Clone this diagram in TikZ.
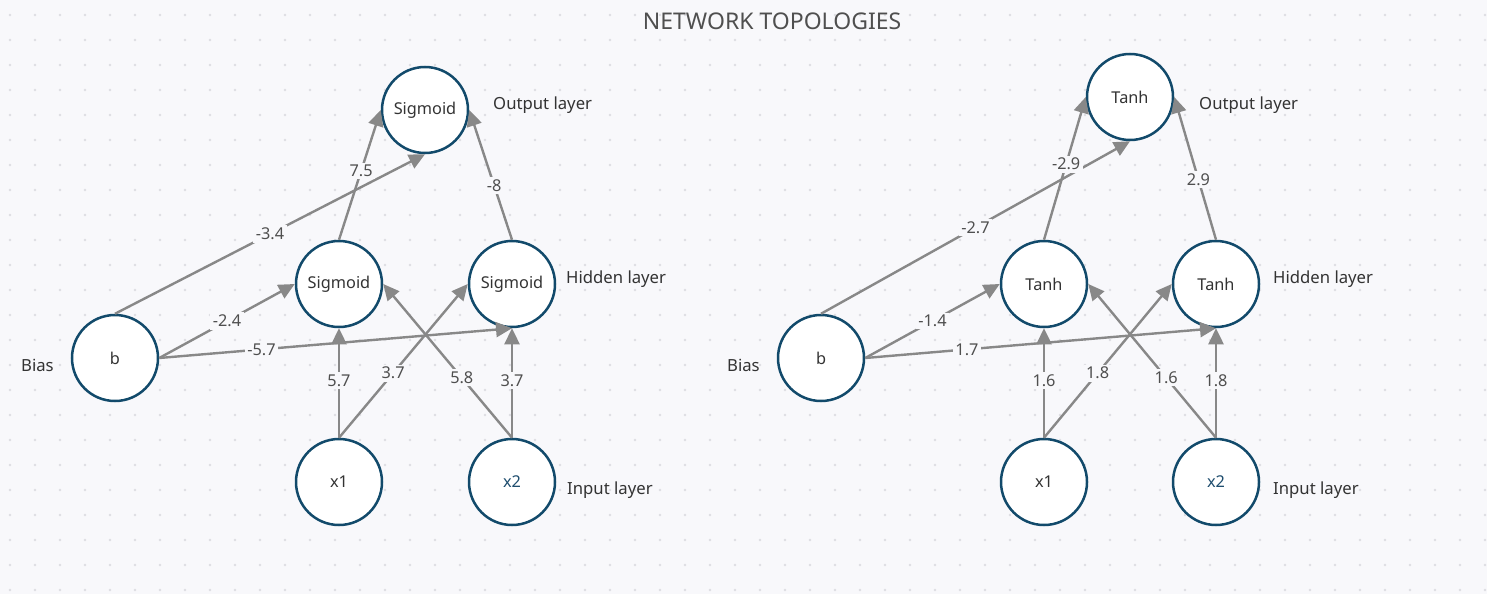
\documentclass[tikz,border=0pt]{standalone}
\usepackage{fontspec}
\setmainfont{Noto Sans}
\usetikzlibrary{arrows.meta}
\definecolor{bg}{HTML}{F8F8FB}
\definecolor{dotc}{HTML}{DDDDE2}
\definecolor{ring}{HTML}{124A6B}
\definecolor{edgec}{HTML}{888888}
\definecolor{txt}{HTML}{333333}
\definecolor{xtwo}{HTML}{1E4D6E}
\definecolor{wtxt}{HTML}{4F4F4F}
\tikzset{
  neuron/.style={circle, draw=ring, fill=white, line width=2.5pt, minimum size=86pt, inner sep=0pt, text=txt, font=\fontsize{16.3}{19}\selectfont},
  conn/.style={draw=edgec, line width=2.4pt, -{Triangle[length=16pt,width=15pt]}},
  wlab/.style={fill=bg, inner sep=2.5pt, text=wtxt, font=\fontsize{16.3}{19}\selectfont},
  layerlab/.style={text=txt, anchor=west, inner sep=0pt, font=\fontsize{16.7}{19}\selectfont},
  titlestyle/.style={text=wtxt, font=\fontsize{23}{27}\selectfont}
}
\begin{document}
\begin{tikzpicture}[x=1pt,y=-1pt]
\fill[bg] (0,0) rectangle (1487,594);
\useasboundingbox (0,0) rectangle (1487,594);
\foreach \i in {0,...,59}{\foreach \j in {0,...,23}{\fill[dotc] (10+25*\i,15+25*\j) circle (1.3pt);}}
\node[titlestyle] (title) at (772,21) {NETWORK TOPOLOGIES};
% left network
\node[neuron] (Lout) at (425,110) {Sigmoid};
\node[neuron] (Lh1) at (339,284) {Sigmoid};
\node[neuron] (Lh2) at (512,284) {Sigmoid};
\node[neuron] (Lb) at (115,358) {b};
\node[neuron] (Lx1) at (339,482) {x1};
\node[neuron, text=xtwo] (Lx2) at (512,482) {x2};
\node[layerlab] (Lol) at (493,105) {Output layer};
\node[layerlab] (Lhl) at (566,279) {Hidden layer};
\node[layerlab] (Lil) at (567,490) {Input layer};
\node[layerlab] (Lbl) at (21,365) {Bias};
\draw[conn] (Lb.north) -- node[wlab]{-3.4} (Lout.south);
\draw[conn] (Lb.east) -- node[wlab]{-2.4} (Lh1.west);
\draw[conn] (Lb.east) -- node[wlab,pos=0.29]{-5.7} (Lh2.south);
\draw[conn] (Lh1.north) -- node[wlab,pos=0.53]{7.5} (Lout.west);
\draw[conn] (Lh2.north) -- node[wlab,pos=0.42]{-8} (Lout.east);
\draw[conn] (Lx1.north) -- node[wlab,pos=0.52]{5.7} (Lh1.south);
\draw[conn] (Lx1.north) -- node[wlab,pos=0.42]{3.7} (Lh2.west);
\draw[conn] (Lx2.north) -- node[wlab,pos=0.39]{5.8} (Lh1.east);
\draw[conn] (Lx2.north) -- node[wlab,pos=0.52]{3.7} (Lh2.south);
% right network
\node[neuron] (Rout) at (1130,97) {Tanh};
\node[neuron] (Rh1) at (1044,284) {Tanh};
\node[neuron] (Rh2) at (1216,284) {Tanh};
\node[neuron] (Rb) at (821,358) {b};
\node[neuron] (Rx1) at (1044,482) {x1};
\node[neuron, text=xtwo] (Rx2) at (1216,482) {x2};
\node[layerlab] (Rol) at (1199,105) {Output layer};
\node[layerlab] (Rhl) at (1273,279) {Hidden layer};
\node[layerlab] (Ril) at (1273,490) {Input layer};
\node[layerlab] (Rbl) at (727,365) {Bias};
\draw[conn] (Rb.north) -- node[wlab]{-2.7} (Rout.south);
\draw[conn] (Rb.east) -- node[wlab]{-1.4} (Rh1.west);
\draw[conn] (Rb.east) -- node[wlab,pos=0.29]{1.7} (Rh2.south);
\draw[conn] (Rh1.north) -- node[wlab,pos=0.53]{-2.9} (Rout.west);
\draw[conn] (Rh2.north) -- node[wlab,pos=0.42]{2.9} (Rout.east);
\draw[conn] (Rx1.north) -- node[wlab,pos=0.52]{1.6} (Rh1.south);
\draw[conn] (Rx1.north) -- node[wlab,pos=0.42]{1.8} (Rh2.west);
\draw[conn] (Rx2.north) -- node[wlab,pos=0.39]{1.6} (Rh1.east);
\draw[conn] (Rx2.north) -- node[wlab,pos=0.52]{1.8} (Rh2.south);
\end{tikzpicture}
\end{document}
